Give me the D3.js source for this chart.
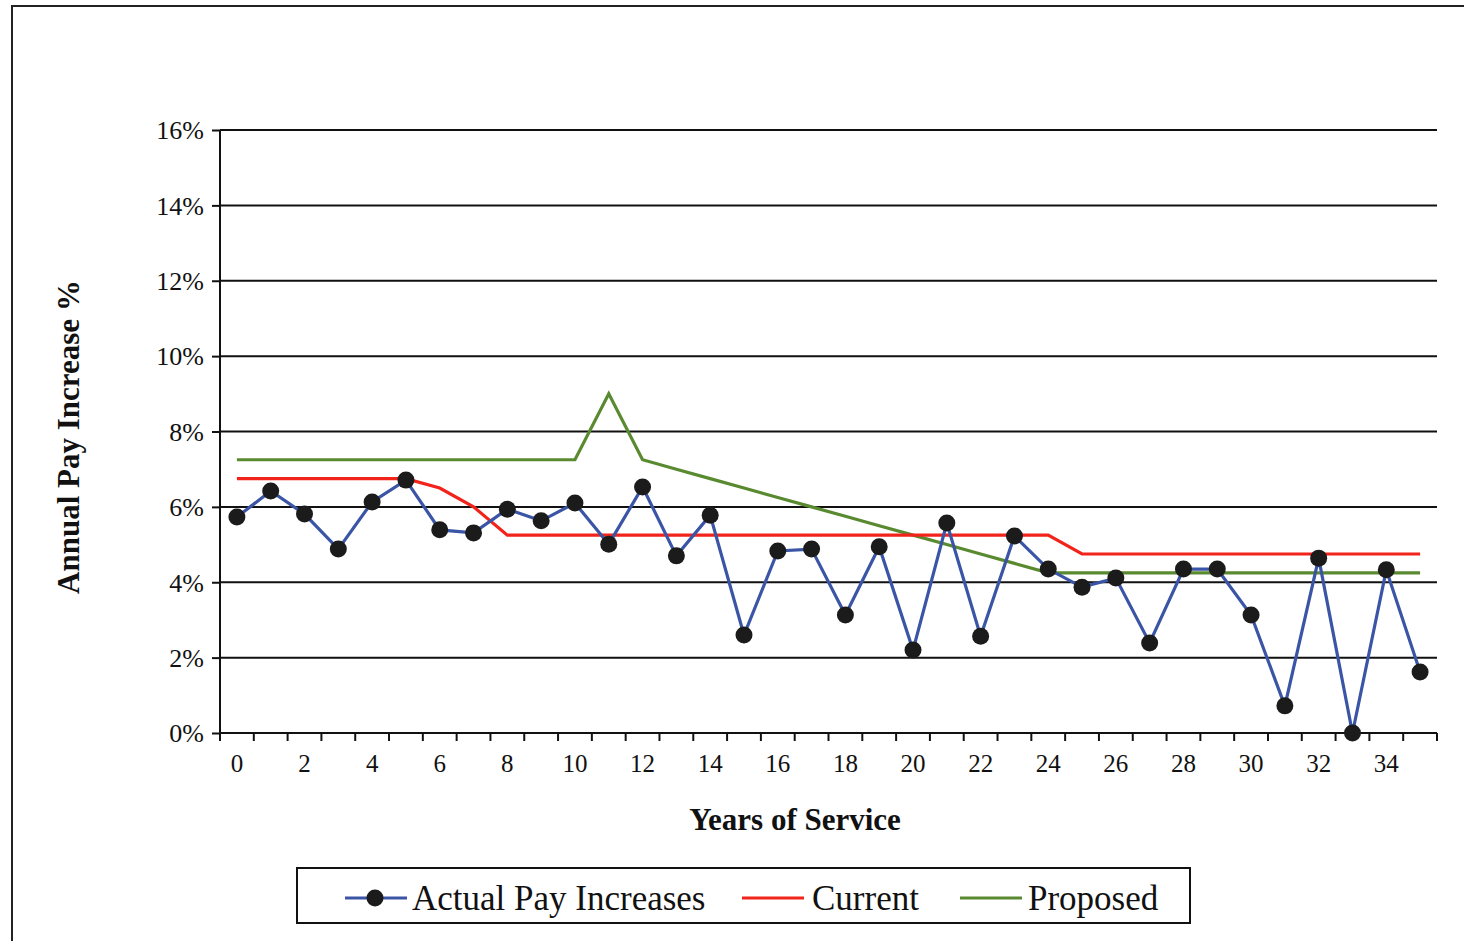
<!DOCTYPE html>
<html>
<head>
<meta charset="utf-8">
<script src="https://cdn.jsdelivr.net/npm/d3@7"></script>
<style>
  html, body { margin: 0; padding: 0; background: #fff; }
  svg { display: block; }
  text { font-family: "Liberation Serif", "Times New Roman", serif; fill: #111; }
</style>
</head>
<body>
<svg id="chart" width="1464" height="941"></svg>
<script>
// Years of service 0..35
const years = d3.range(0, 36);

// Actual pay increases (%) per year of service
const actual = [5.73, 6.42, 5.81, 4.88, 6.13, 6.71, 5.39, 5.31, 5.94, 5.63,
                6.10, 5.01, 6.53, 4.70, 5.78, 2.60, 4.83, 4.88, 3.13, 4.94,
                2.20, 5.57, 2.57, 5.23, 4.35, 3.87, 4.11, 2.39, 4.35, 4.35,
                3.13, 0.72, 4.64, 0.00, 4.33, 1.62];

// Current schedule (%)
const current = [6.75, 6.75, 6.75, 6.75, 6.75, 6.75, 6.5, 6.0, 5.25, 5.25,
                 5.25, 5.25, 5.25, 5.25, 5.25, 5.25, 5.25, 5.25, 5.25, 5.25,
                 5.25, 5.25, 5.25, 5.25, 5.25, 4.75, 4.75, 4.75, 4.75, 4.75,
                 4.75, 4.75, 4.75, 4.75, 4.75, 4.75];

// Proposed schedule (%)
const proposed = [7.25, 7.25, 7.25, 7.25, 7.25, 7.25, 7.25, 7.25, 7.25, 7.25,
                  7.25, 9.0, 7.25, 7.0, 6.75, 6.5, 6.25, 6.0, 5.75, 5.5,
                  5.25, 5.0, 4.75, 4.5, 4.25, 4.25, 4.25, 4.25, 4.25, 4.25,
                  4.25, 4.25, 4.25, 4.25, 4.25, 4.25];

const yTicks = [0, 2, 4, 6, 8, 10, 12, 14, 16];
const xLabelYears = d3.range(0, 36, 2);

const seriesNames = ["Actual Pay Increases", "Current", "Proposed"];
const colors = { actual: "#3b55a6", current: "#f2231b", proposed: "#5a8a30" };

const svg = d3.select("#chart");

// outer frame
svg.append("rect")
  .attr("x", 12).attr("y", 6)
  .attr("width", 1480).attr("height", 960)
  .attr("fill", "none").attr("stroke", "#222").attr("stroke-width", 2);

const plot = { left: 220, right: 1437, top: 130, bottom: 733 };

const x = d3.scaleBand()
  .domain(years)
  .range([plot.left, plot.right])
  .paddingInner(0).paddingOuter(0);
const cx = d => x(d) + x.bandwidth() / 2;

const y = d3.scaleLinear().domain([0, 16]).range([plot.bottom, plot.top]);

// horizontal gridlines
svg.append("g")
  .selectAll("line")
  .data(yTicks.filter(t => t > 0))
  .join("line")
  .attr("x1", plot.left).attr("x2", plot.right)
  .attr("y1", d => y(d)).attr("y2", d => y(d))
  .attr("stroke", "#111").attr("stroke-width", 2);

// y axis
const yAxis = svg.append("g")
  .attr("transform", `translate(${plot.left},0)`)
  .call(d3.axisLeft(y).tickValues(yTicks).tickSize(8).tickPadding(8)
        .tickFormat(d => d + "%"));
yAxis.select(".domain").attr("stroke", "#111").attr("stroke-width", 2)
  .attr("d", `M0,${plot.top}V${plot.bottom}`);
yAxis.selectAll(".tick line").attr("stroke", "#111").attr("stroke-width", 2);
yAxis.selectAll(".tick text").style("font-size", "26px")
  .attr("dy", "0.34em").attr("fill", "#111");

// x axis: ticks on category boundaries, labels every other year
const boundaries = years.map(d => x(d)).concat([plot.right]);
const xAxis = svg.append("g").attr("transform", `translate(0,${plot.bottom})`);
xAxis.append("line")
  .attr("x1", plot.left).attr("x2", plot.right)
  .attr("stroke", "#111").attr("stroke-width", 2);
xAxis.selectAll("line.tk")
  .data(boundaries)
  .join("line").attr("class", "tk")
  .attr("x1", d => d).attr("x2", d => d)
  .attr("y1", 0).attr("y2", 8)
  .attr("stroke", "#111").attr("stroke-width", 2);
xAxis.selectAll("text")
  .data(xLabelYears)
  .join("text")
  .attr("x", d => cx(d)).attr("y", 39)
  .attr("text-anchor", "middle")
  .style("font-size", "25px")
  .text(d => d);

// axis titles
svg.append("text")
  .attr("x", 795).attr("y", 830)
  .attr("text-anchor", "middle")
  .style("font-size", "31px").style("font-weight", "bold")
  .text("Years of Service");
svg.append("text")
  .attr("transform", "translate(79,437) rotate(-90)")
  .attr("text-anchor", "middle")
  .style("font-size", "31px").style("font-weight", "bold")
  .text("Annual Pay Increase %");

const line = d3.line().x((d, i) => cx(years[i])).y(d => y(d));

svg.append("path").datum(proposed)
  .attr("d", line).attr("fill", "none")
  .attr("stroke", colors.proposed).attr("stroke-width", 3.2);
svg.append("path").datum(current)
  .attr("d", line).attr("fill", "none")
  .attr("stroke", colors.current).attr("stroke-width", 3.2);
svg.append("path").datum(actual)
  .attr("d", line).attr("fill", "none")
  .attr("stroke", colors.actual).attr("stroke-width", 3.2);
svg.append("g").selectAll("circle")
  .data(actual)
  .join("circle")
  .attr("cx", (d, i) => cx(years[i])).attr("cy", d => y(d))
  .attr("r", 8.5).attr("fill", "#1b1b1b");

// legend
const lg = svg.append("g");
lg.append("rect")
  .attr("x", 297).attr("y", 868).attr("width", 893).attr("height", 55)
  .attr("fill", "#fff").attr("stroke", "#111").attr("stroke-width", 2);
const legendItems = [
  { name: seriesNames[0], color: colors.actual, x0: 345, tx: 412, marker: true },
  { name: seriesNames[1], color: colors.current, x0: 742, tx: 812, marker: false },
  { name: seriesNames[2], color: colors.proposed, x0: 960, tx: 1028, marker: false }
];
const lgY = 898;
legendItems.forEach(it => {
  lg.append("line")
    .attr("x1", it.x0).attr("x2", it.x0 + 62)
    .attr("y1", lgY).attr("y2", lgY)
    .attr("stroke", it.color).attr("stroke-width", 3.2);
  if (it.marker) {
    lg.append("circle").attr("cx", it.x0 + 30).attr("cy", lgY)
      .attr("r", 8.5).attr("fill", "#1b1b1b");
  }
  lg.append("text")
    .attr("x", it.tx).attr("y", lgY + 12)
    .style("font-size", "35px")
    .text(it.name);
});
</script>
</body>
</html>
